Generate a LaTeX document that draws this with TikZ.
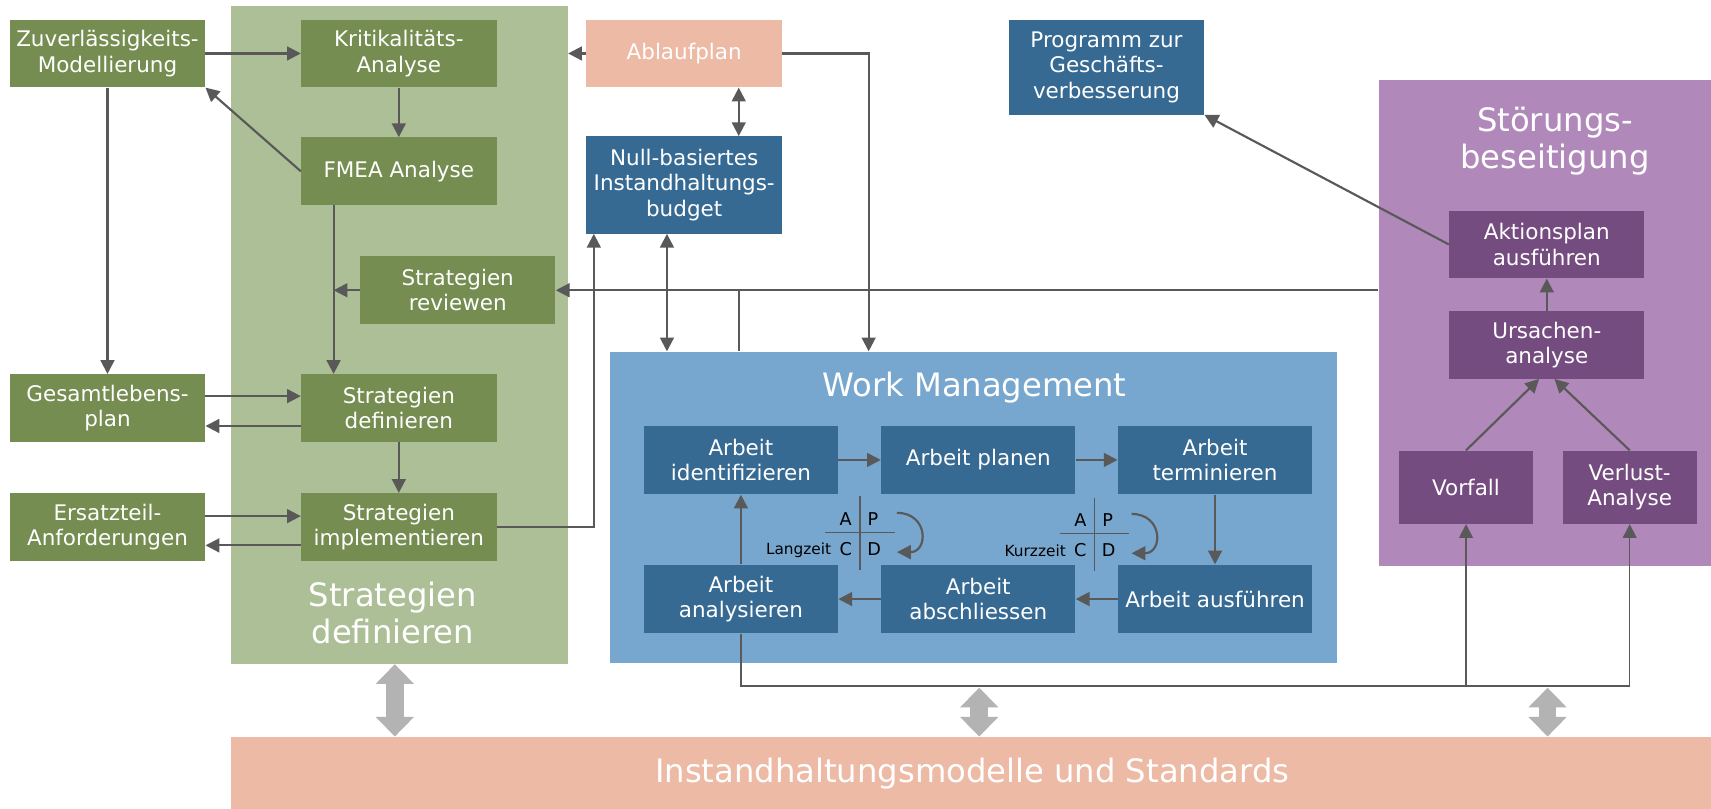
\documentclass[tikz,border=0pt]{standalone}
\usepackage{fontspec}
\setmainfont{DejaVu Sans}
\usetikzlibrary{arrows.meta}

\definecolor{grdark}{HTML}{758D51}
\definecolor{grlight}{HTML}{ADBF96}
\definecolor{bldark}{HTML}{366A93}
\definecolor{bllight}{HTML}{77A7CE}
\definecolor{salmon}{HTML}{ECBAA5}
\definecolor{ppdark}{HTML}{754C80}
\definecolor{pplight}{HTML}{B088B9}
\definecolor{linkgray}{HTML}{595959}
\definecolor{bandgray}{HTML}{B3B3B3}

\tikzset{
  box/.style={text=white, align=center, inner sep=0pt, font=\fontsize{14}{16.5}\selectfont, minimum width=4.475cm, minimum height=1.55cm},
  gbox/.style={box, fill=grdark},
  bbox/.style={box, fill=bldark},
  pbox/.style={box, fill=ppdark},
  panel/.style={inner sep=0pt, anchor=north west},
  paneltitle/.style={text=white, align=center, font=\fontsize{21}{24}\selectfont},
  conn/.style={draw=linkgray, line width=1.4pt},
  busline/.style={draw=linkgray, line width=1pt},
  pdca/.style={font=\fontsize{11.5}{12}\selectfont, inner sep=0pt},
  bigdbl/.style={draw=bandgray, line width=0.4cm, {Triangle[length=0.45cm,width=0.85cm]}-{Triangle[length=0.45cm,width=0.85cm]}}
}

\begin{document}
\begin{tikzpicture}[line cap=butt,line join=miter,>={Triangle[length=9pt,width=9pt]},x=0.025cm,y=-0.025cm]
\useasboundingbox (0,0) rectangle (1568,741);

\node[panel, fill=grlight, minimum width=7.725cm, minimum height=15.075cm] (green) at (211,5) {};
\node[panel, fill=bllight, minimum width=16.65cm, minimum height=7.125cm] (wm) at (559,322) {};
\node[panel, fill=pplight, minimum width=7.625cm, minimum height=11.125cm] (stoer) at (1263,73) {};
\node[panel, fill=salmon, minimum width=33.925cm, minimum height=1.65cm] (band) at (211,675) {};

\node[paneltitle] (greentitle) at (360,562) {Strategien\\definieren};
\node[paneltitle] (wmtitle) at (893,355) {Work Management};
\node[paneltitle] (stoertitle) at (1425,129) {Störungs-\\beseitigung};
\node[paneltitle] (bandtitle) at (891,709) {Instandhaltungsmodelle und Standards};

\node[gbox] (zuv) at (98.5,49) {Zuverlässigkeits-\\Modellierung};
\node[gbox] (krit) at (365.5,49) {Kritikalitäts-\\Analyse};
\node[gbox] (fmea) at (365.5,157) {FMEA Analyse};
\node[gbox] (rev) at (419.5,266) {Strategien\\reviewen};
\node[gbox] (gesamt) at (98.5,374) {Gesamtlebens-\\plan};
\node[gbox] (sdef) at (365.5,374) {Strategien\\definieren};
\node[gbox] (ersatz) at (98.5,483) {Ersatzteil-\\Anforderungen};
\node[gbox] (simpl) at (365.5,483) {Strategien\\implementieren};

\node[box, fill=salmon] (ablauf) at (627,49) {Ablaufplan};
\node[bbox, minimum height=2.225cm] (null) at (627,169.5) {Null-basiertes\\Instandhaltungs-\\budget};
\node[bbox, minimum height=2.175cm] (prog) at (1014,61.5) {Programm zur\\Geschäfts-\\verbesserung};

\node[pbox] (aktion) at (1417.5,224) {Aktionsplan\\ausführen};
\node[pbox] (ursache) at (1417.5,316) {Ursachen-\\analyse};
\node[pbox, minimum width=3.075cm, minimum height=1.675cm] (vorfall) at (1343.5,446.5) {Vorfall};
\node[pbox, minimum width=3.075cm, minimum height=1.675cm] (verlust) at (1493.5,446.5) {Verlust-\\Analyse};

\node[bbox, minimum width=4.45cm, minimum height=1.575cm] (aid) at (679,421.5) {Arbeit\\identifizieren};
\node[bbox, minimum width=4.45cm, minimum height=1.575cm] (apl) at (896.5,421.5) {Arbeit planen};
\node[bbox, minimum width=4.45cm, minimum height=1.575cm] (ater) at (1113.5,421.5) {Arbeit\\terminieren};
\node[bbox, minimum width=4.45cm, minimum height=1.575cm] (aan) at (679,549) {Arbeit\\analysieren};
\node[bbox, minimum width=4.45cm, minimum height=1.575cm] (aab) at (896.5,549) {Arbeit\\abschliessen};
\node[bbox, minimum width=4.45cm, minimum height=1.575cm] (aaus) at (1113.5,549) {Arbeit ausführen};

\foreach \cx/\cy/\lbl in {788/488/Langzeit, 1003/489/Kurzzeit}{
  \draw[linkgray, line width=0.9pt] (\cx,\cy-33) -- (\cx,\cy+34);
  \draw[linkgray, line width=0.9pt] (\cx-32,\cy) -- (\cx+32,\cy);
  \node[pdca] (a\lbl) at (\cx-13,\cy-12) {A};
  \node[pdca] (p\lbl) at (\cx+12,\cy-12) {P};
  \node[pdca] (c\lbl) at (\cx-13,\cy+15) {C};
  \node[pdca] (d\lbl) at (\cx+13,\cy+15) {D};
  \node[pdca, font=\fontsize{10}{11}\selectfont, anchor=east] (t\lbl) at (\cx-26,\cy+16) {\lbl};
  \draw[conn, ->] (\cx+34,\cy-18) .. controls (\cx+63,\cy-18) and (\cx+63,\cy+18) .. (\cx+34,\cy+18);
}

\draw[conn, ->] (zuv.east) -- (krit.west);
\draw[conn, ->] (krit) -- (fmea);
\draw[conn, ->] (fmea.west) -- (zuv.south east);
\draw[conn, ->] (zuv) -- (gesamt);
\coordinate (fdown) at ([xshift=0.75cm]fmea.south west);
\draw[conn, ->] (fdown) -- (fdown |- sdef.north);
\draw[conn, ->] (rev.west) -- (rev.west -| fdown);
\draw[conn, ->] ([yshift=0.275cm]gesamt.east) -- ([yshift=0.275cm]sdef.west);
\draw[conn, ->] ([yshift=-0.41cm]sdef.west) -- ([yshift=-0.41cm]gesamt.east);
\draw[conn, ->] (sdef) -- (simpl);
\draw[conn, ->] ([yshift=0.25cm]ersatz.east) -- ([yshift=0.25cm]simpl.west);
\draw[conn, ->] ([yshift=-0.42cm]simpl.west) -- ([yshift=-0.42cm]ersatz.east);
\draw[conn, ->] (simpl.east) -| ([xshift=0.175cm]null.south west);

\draw[conn, ->] (ablauf.west) -- (ablauf.west -| green.east);
\draw[conn, <->] ([xshift=1.25cm]ablauf.south) -- ([xshift=1.25cm]null.north);
\draw[conn, ->] (ablauf.east) -| ([xshift=5.925cm]wm.north west);
\draw[conn, <->] ([xshift=1.85cm]null.south west) -- ([xshift=1.85cm]null.south west |- wm.north);
\draw[conn] ([xshift=2.95cm]wm.north west) -- ([xshift=2.95cm]wm.north west |- rev.east);
\draw[conn, ->] (stoer.west |- rev.east) -- (rev.east);

\draw[conn, ->] (aktion.west) -- (prog.south east);
\draw[conn, ->] (ursache) -- (aktion);
\draw[conn, ->] (vorfall.north) -- ([xshift=-0.175cm]ursache.south);
\draw[conn, ->] (verlust.north) -- ([xshift=0.175cm]ursache.south);

\draw[conn, ->] (aid) -- (apl);
\draw[conn, ->] (apl) -- (ater);
\draw[conn, ->] (ater) -- (aaus);
\draw[conn, ->] (aaus) -- (aab);
\draw[conn, ->] (aab) -- (aan);
\draw[conn, ->] (aan) -- (aid);

\coordinate (bus) at ([yshift=-1.2cm]aan.south);
\draw[busline] (aan.south) -- (bus) -- (bus -| verlust.south);
\draw[busline, ->] (bus -| vorfall.south) -- (vorfall.south);
\draw[busline, ->] (bus -| verlust.south) -- (verlust.south);

\coordinate (wmgap) at ([xshift=0.125cm,yshift=-0.565cm]wm.south);
\draw[bigdbl] ([xshift=-0.1cm]green.south) -- ([xshift=-0.1cm]green.south |- band.north);
\draw[bigdbl] (wmgap) -- (wmgap |- band.north);
\draw[bigdbl] ([xshift=0.06cm]stoer.south |- wmgap) -- ([xshift=0.06cm]stoer.south |- band.north);
\end{tikzpicture}
\end{document}
